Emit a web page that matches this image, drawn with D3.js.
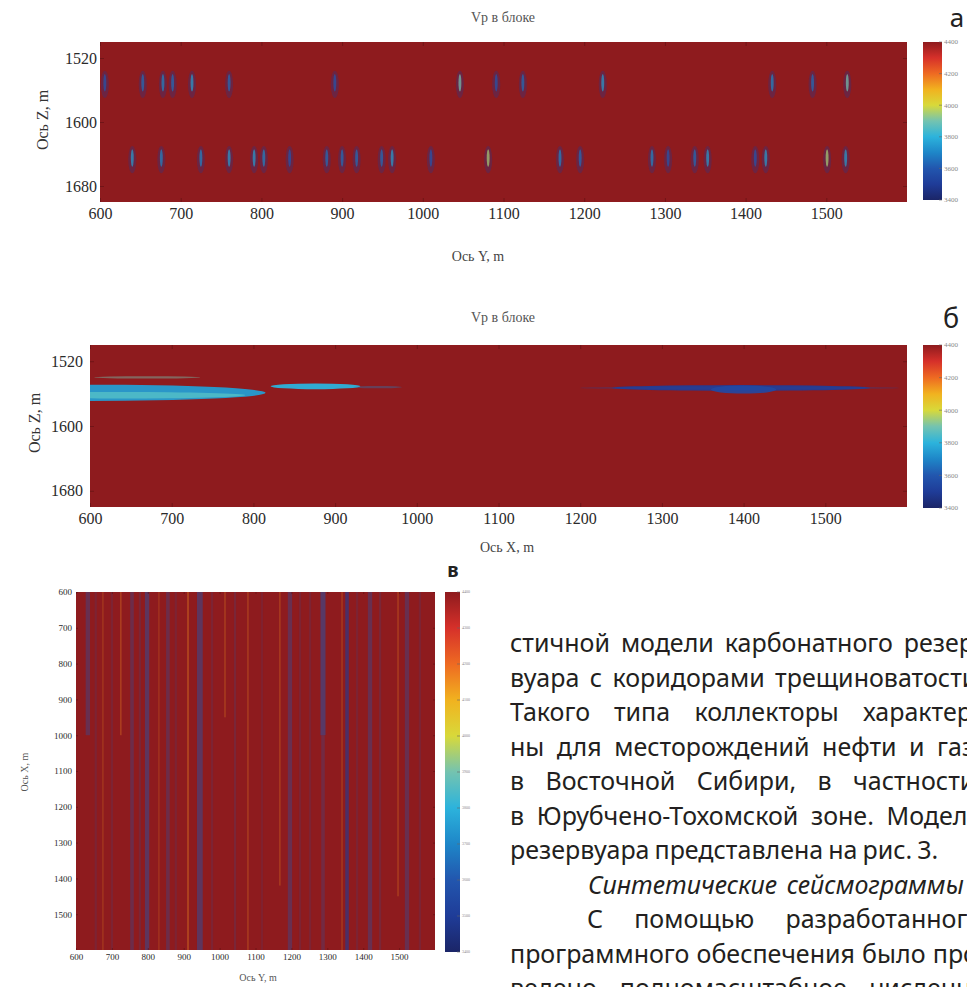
<!DOCTYPE html>
<html>
<head>
<meta charset="utf-8">
<script src="https://cdn.jsdelivr.net/npm/d3@7"></script>
<style>
  body { margin: 0; background: #fff; }
  svg { display: block; }
</style>
</head>
<body>
<script>
// velocity scale (m/s) and axis ticks
var vpTicks = [3400, 3600, 3800, 4000, 4200, 4400];
var vpTicksFine = [3400, 3500, 3600, 3700, 3800, 3900, 4000, 4100, 4200, 4300, 4400];
var distTicks = [600, 700, 800, 900, 1000, 1100, 1200, 1300, 1400, 1500];
var depthTicks = [1520, 1600, 1680];
var vpBackground = 4400;

// panel a: fracture lenses in two depth rows (Y position, m; min Vp)
var aRowZ = [1553, 1647];
var aUpperY = [606, 653, 678, 690, 714, 760, 891, 1046, 1091, 1124, 1223, 1433, 1483, 1526];
var aUpperVp = [3600, 3650, 3700, 3650, 3750, 3650, 3600, 3900, 3600, 3650, 3750, 3700, 3650, 3900];
var aLowerY = [640, 676, 725, 760, 791, 803, 835, 881, 900, 918, 949, 962, 1010, 1081, 1170, 1195, 1284, 1304, 1337, 1353, 1412, 1425, 1501, 1524];
var aLowerVp = [3750, 3700, 3700, 3750, 3750, 3700, 3600, 3650, 3650, 3650, 3650, 3750, 3600, 3950, 3700, 3650, 3700, 3600, 3650, 3750, 3600, 3750, 3950, 3750];

// panel б: low-velocity lenses along X (centre, half-length, depth, half-thickness, Vp, contrast)
var bLensX = [670, 600, 640, 876, 952, 1397, 1395, 1400];
var bLensHalfLen = [65, 215, 150, 55, 30, 158, 195, 40];
var bLensZ = [1540, 1559, 1562, 1551, 1552, 1553, 1553, 1555];
var bLensHalfThick = [1.5, 10, 4, 3.5, 1.5, 3.5, 2, 5];
var bLensVp = [3900, 3750, 3850, 3800, 3700, 3500, 3550, 3550];
var bLensWeight = [0.45, 0.95, 0.9, 0.95, 0.35, 0.9, 0.3, 0.9];

// panel в: vertical fracture corridors in plan view (Y position, X extent, width m, Vp, contrast)
var cStreakY = [633, 675, 725, 756, 798, 831, 856, 912, 945, 1015, 1079, 1168, 1196, 1288, 1288, 1341, 1355, 1419, 1497, 1522,
                655, 700, 778, 878, 979, 1043, 1118, 1224, 1252, 1383, 1447, 1558];
var cStreakX0 = [600, 600, 600, 600, 600, 600, 600, 600, 600, 600, 600, 600, 600, 600, 1000, 600, 600, 600, 600, 600,
                 600, 600, 600, 600, 600, 600, 600, 600, 600, 600, 600, 600];
var cStreakX1 = [1000, 1600, 1000, 1600, 1600, 1600, 1600, 1600, 1600, 950, 1600, 1420, 1600, 1000, 1600, 1600, 1600, 1600, 1450, 1600,
                 1600, 1600, 1600, 1600, 1600, 1600, 1600, 1600, 1600, 1600, 1600, 1600];
var cStreakW = [12, 3, 3, 10, 12, 3, 10, 4, 16, 3, 3, 3, 12, 14, 10, 3, 10, 12, 3, 12,
                6, 6, 6, 6, 6, 6, 6, 6, 6, 6, 6, 6];
var cStreakVp = [3600, 4150, 4150, 3600, 3600, 4150, 3600, 4150, 3600, 4150, 4150, 4150, 3600, 3600, 3600, 4150, 3500, 3600, 4150, 3600,
                 3600, 3600, 3600, 3600, 3600, 3600, 3600, 3600, 3600, 3600, 3600, 3600];
var cStreakWeight = [0.35, 0.3, 0.45, 0.3, 0.45, 0.28, 0.3, 0.45, 0.45, 0.4, 0.4, 0.4, 0.35, 0.5, 0.25, 0.35, 0.6, 0.35, 0.4, 0.35,
                     0.15, 0.15, 0.18, 0.15, 0.15, 0.18, 0.12, 0.15, 0.15, 0.15, 0.18, 0.15];

var textLines = [
  "стичной модели карбонатного резер-",
  "вуара с коридорами трещиноватости.",
  "Такого типа коллекторы характер-",
  "ны для месторождений нефти и газа",
  "в Восточной Сибири, в частности,",
  "в Юрубчено-Тохомской зоне. Модель",
  "резервуара представлена на рис. 3.",
  "Синтетические сейсмограммы",
  "С помощью разработанного",
  "программного обеспечения было про-",
  "ведено полномасштабное численное"
];

var W = 967, H = 987;
var serif = "'Liberation Serif', 'DejaVu Serif', serif";
var sans = "'Noto Sans', 'Open Sans', sans-serif";

var svg = d3.select("body").append("svg").attr("width", W).attr("height", H);
svg.append("rect").attr("width", W).attr("height", H).attr("fill", "#fff");
var defs = svg.append("defs");

// jet-like colormap as printed
var jet = d3.scaleLinear()
  .domain(vpTicksFine)
  .range(["#1b2567", "#1f3c98", "#2256ae", "#1e86c8", "#2cb3dc", "#74c3b0",
          "#d8d93a", "#f1b21f", "#ee6a22", "#d6302a", "#8e1b1e"])
  .clamp(true);

function panel(o) {
  var g = svg.append("g").attr("transform", "translate(" + o.left + "," + o.top + ")");
  var x = d3.scaleLinear().domain(o.xDomain).range([0, o.width]);
  var y = d3.scaleLinear().domain(o.yDomain).range([0, o.height]);
  defs.append("clipPath").attr("id", "clip-" + o.name)
    .append("rect").attr("width", o.width).attr("height", o.height);
  g.append("rect").attr("width", o.width).attr("height", o.height).attr("fill", jet(vpBackground));
  var plot = g.append("g").attr("clip-path", "url(#clip-" + o.name + ")");
  return { g: g, plot: plot, x: x, y: y, o: o };
}

function axes(p, st) {
  var o = p.o;
  var fmt = d3.format("d");
  var bottom = p.g.append("g").attr("transform", "translate(0," + o.height + ")")
    .call(d3.axisBottom(p.x).tickValues(st.xTicks).tickFormat(fmt).tickSizeInner(-st.tick).tickSizeOuter(0).tickPadding(st.xPad));
  var left = p.g.append("g")
    .call(d3.axisLeft(p.y).tickValues(st.yTicks).tickFormat(fmt).tickSizeInner(-st.tick).tickSizeOuter(0).tickPadding(st.yPad));
  var top = p.g.append("g")
    .call(d3.axisTop(p.x).tickValues(st.xTicks).tickSizeInner(-st.tick).tickSizeOuter(0).tickFormat(""));
  var right = p.g.append("g").attr("transform", "translate(" + o.width + ",0)")
    .call(d3.axisRight(p.y).tickValues(st.yTicks).tickSizeInner(-st.tick).tickSizeOuter(0).tickFormat(""));
  [bottom, left, top, right].forEach(function (a) {
    a.select(".domain").remove();
    a.selectAll(".tick line").attr("stroke", "#5e1112").attr("stroke-opacity", 0.6);
    a.selectAll("text").attr("font-family", serif).attr("font-size", st.font).attr("fill", "#2a2a2a");
  });
}

function colorbar(name, x0, y0, w, h, ticks, font) {
  var grad = defs.append("linearGradient").attr("id", "cb-" + name)
    .attr("x1", 0).attr("y1", 1).attr("x2", 0).attr("y2", 0);
  grad.selectAll("stop").data(vpTicksFine).enter().append("stop")
    .attr("offset", function (d) { return (d - 3400) / 1000; })
    .attr("stop-color", function (d) { return jet(d); });
  var cy = d3.scaleLinear().domain([3400, 4400]).range([y0 + h, y0]);
  svg.append("rect").attr("x", x0).attr("y", y0).attr("width", w).attr("height", h)
    .attr("fill", "url(#cb-" + name + ")");
  svg.append("g").selectAll("line").data(ticks).enter().append("line")
    .attr("x1", x0 + w - 3).attr("x2", x0 + w)
    .attr("y1", function (d) { return cy(d); }).attr("y2", function (d) { return cy(d); })
    .attr("stroke", "#666").attr("stroke-width", 0.6);
  svg.append("g").selectAll("text").data(ticks).enter().append("text")
    .attr("x", x0 + w + 2).attr("y", function (d) { return cy(d); }).attr("dy", "0.35em")
    .attr("font-family", serif).attr("font-size", font).attr("fill", "#8a8a8a")
    .text(function (d) { return d; });
}

function label(txt, x, y, size, opts) {
  opts = opts || {};
  var t = svg.append("text").attr("x", x).attr("y", y)
    .attr("font-family", opts.family || serif).attr("font-size", size)
    .attr("fill", opts.fill || "#444").attr("text-anchor", opts.anchor || "middle")
    .text(txt);
  if (opts.weight) t.attr("font-weight", opts.weight);
  if (opts.rotate) t.attr("transform", "rotate(-90," + x + "," + y + ")");
  return t;
}

// ---------- panel a ----------
var pa = panel({ name: "a", left: 100, top: 42, width: 807, height: 160, xDomain: [600, 1600], yDomain: [1500, 1700] });
var aStreaks = [];
aUpperY.forEach(function (v, i) { aStreaks.push({ y: v, z: aRowZ[0], vp: aUpperVp[i] }); });
aLowerY.forEach(function (v, i) { aStreaks.push({ y: v, z: aRowZ[1], vp: aLowerVp[i] }); });
var dx = function (m) { return pa.x(600 + m) - pa.x(600); };
var dz = function (m) { return pa.y(1500 + m) - pa.y(1500); };
pa.plot.selectAll("ellipse.halo").data(aStreaks).enter().append("ellipse")
  .attr("cx", function (d) { return pa.x(d.y); }).attr("cy", function (d) { return pa.y(d.z); })
  .attr("rx", dx(5)).attr("ry", dz(17))
  .attr("fill", jet(3500)).attr("opacity", 0.3);
pa.plot.selectAll("ellipse.core").data(aStreaks).enter().append("ellipse")
  .attr("cx", function (d) { return pa.x(d.y); }).attr("cy", function (d) { return pa.y(d.z) - dz(2); })
  .attr("rx", dx(1.8)).attr("ry", dz(11))
  .attr("fill", function (d) { return jet(d.vp); }).attr("opacity", 0.7);
axes(pa, { xTicks: distTicks, yTicks: depthTicks, tick: 4, xPad: 6, yPad: 3, font: 16 });
colorbar("a", 923, 42, 19, 158, vpTicks, 7);
label("Vp в блоке", 503, 22, 14, { fill: "#555" });
label("Ось Y, m", 478, 261, 14, { fill: "#444" });
label("Ось Z, m", 48, 120, 16, { fill: "#333", rotate: true });
label("а", 957, 27, 26, { family: sans, fill: "#222" });

// ---------- panel б ----------
var pb = panel({ name: "b", left: 90, top: 345, width: 817, height: 162, xDomain: [600, 1600], yDomain: [1500, 1700] });
var bLenses = bLensX.map(function (v, i) {
  return { x: v, hl: bLensHalfLen[i], z: bLensZ[i], ht: bLensHalfThick[i], vp: bLensVp[i], w: bLensWeight[i] };
});
pb.plot.selectAll("ellipse").data(bLenses).enter().append("ellipse")
  .attr("cx", function (d) { return pb.x(d.x); })
  .attr("cy", function (d) { return pb.y(d.z); })
  .attr("rx", function (d) { return pb.x(600 + d.hl) - pb.x(600); })
  .attr("ry", function (d) { return pb.y(1500 + d.ht) - pb.y(1500); })
  .attr("fill", function (d) { return jet(d.vp); })
  .attr("opacity", function (d) { return d.w; });
axes(pb, { xTicks: distTicks, yTicks: depthTicks, tick: 4, xPad: 6, yPad: 7, font: 16 });
colorbar("b", 923, 345, 19, 163, vpTicks, 7);
label("Vp в блоке", 503, 322, 14, { fill: "#555" });
label("Ось X, m", 507, 552, 14, { fill: "#444" });
label("Ось Z, m", 40, 423, 16, { fill: "#333", rotate: true });
label("б", 951, 328, 27, { family: sans, fill: "#222" });

// ---------- panel в ----------
var pc = panel({ name: "c", left: 76, top: 592, width: 359, height: 358, xDomain: [600, 1600], yDomain: [600, 1600] });
var cStreaks = cStreakY.map(function (v, i) {
  return { y: v, x0: cStreakX0[i], x1: cStreakX1[i], w: cStreakW[i], vp: cStreakVp[i], a: cStreakWeight[i] };
});
pc.plot.selectAll("rect.streak").data(cStreaks).enter().append("rect")
  .attr("x", function (d) { return pc.x(d.y - d.w / 2); })
  .attr("width", function (d) { return pc.x(600 + d.w) - pc.x(600); })
  .attr("y", function (d) { return pc.y(d.x0); })
  .attr("height", function (d) { return pc.y(d.x1) - pc.y(d.x0); })
  .attr("fill", function (d) { return jet(d.vp); })
  .attr("opacity", function (d) { return d.a; });
axes(pc, { xTicks: distTicks, yTicks: distTicks, tick: 2, xPad: 4, yPad: 4, font: 9 });
colorbar("c", 445, 592, 15, 360, vpTicksFine, 4);
label("Ось Y, m", 258, 981, 10, { fill: "#555" });
label("Ось X, m", 28, 772, 10, { fill: "#555", rotate: true });
label("в", 453, 577, 19, { family: sans, fill: "#222", weight: "bold" });

// ---------- body text beside the figure ----------
var textX = [510, 510, 510, 510, 510, 510, 510, 588, 587, 510, 510];
var textRight = [982, 984, 980, 988, 982, 981, 937, null, 982, 986, 1000];
textLines.forEach(function (line, i) {
  var base = 652 + i * 34.5;
  var italic = i === 7;
  var words = line.split(" ");
  var t = svg.append("text").attr("y", base)
    .attr("font-family", sans).attr("font-size", 25).attr("fill", "#231f20")
    .attr("font-style", italic ? "italic" : "normal");
  var spans = words.map(function (w) { return t.append("tspan").text(w); });
  var widths = spans.map(function (s) { return s.node().getComputedTextLength(); });
  var total = d3.sum(widths);
  var gap = words.length < 2 ? 0 : (textRight[i] == null ? 10 :
    Math.max(5, (textRight[i] - textX[i] - total) / (words.length - 1)));
  var cx = textX[i];
  spans.forEach(function (s, k) { s.attr("x", cx); cx += widths[k] + gap; });
});
</script>
</body>
</html>
